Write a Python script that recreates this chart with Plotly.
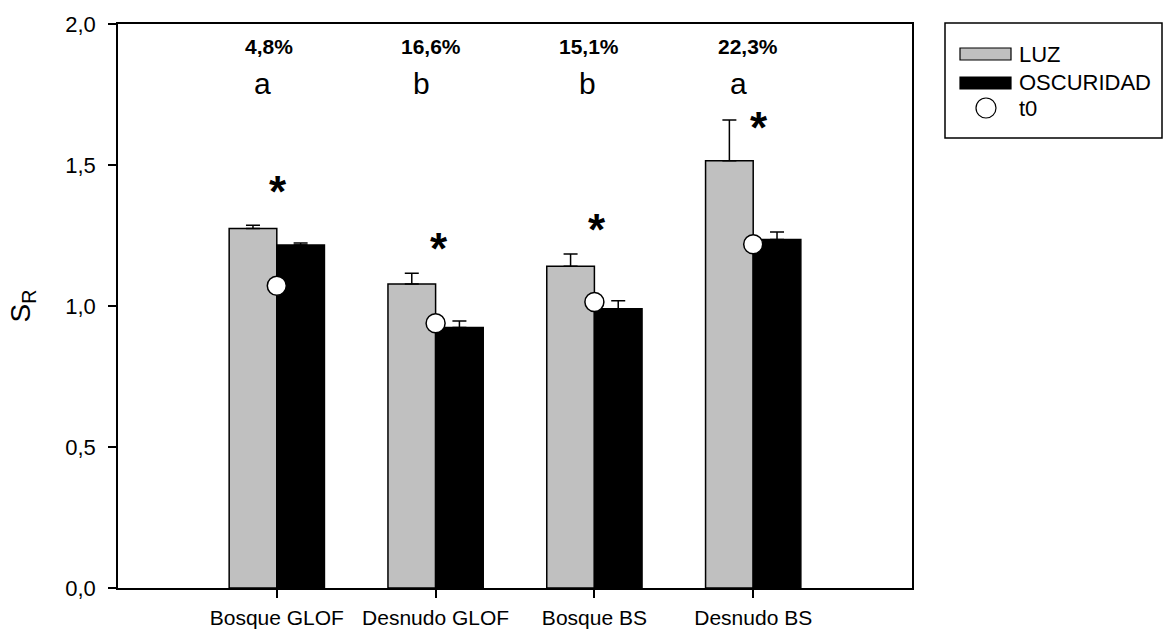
import plotly.graph_objects as go

categories = ["Bosque GLOF", "Desnudo GLOF", "Bosque BS", "Desnudo BS"]
luz = [1.275, 1.078, 1.141, 1.515]
luz_err = [0.011, 0.038, 0.043, 0.145]
oscuridad = [1.216, 0.924, 0.990, 1.236]
osc_err = [0.007, 0.023, 0.029, 0.026]
t0 = [1.072, 0.939, 1.014, 1.219]
percent_labels = ["4,8%", "16,6%", "15,1%", "22,3%"]
letters = ["a", "b", "b", "a"]
asterisk_y = [1.44, 1.24, 1.305, 1.67]

FONT = "Liberation Sans, Arial, sans-serif"

fig = go.Figure()
fig.add_trace(go.Bar(
    x=categories, y=luz, name="LUZ",
    marker=dict(color="#c0c0c0", line=dict(color="black", width=1.5)),
    error_y=dict(type="data", array=luz_err, arrayminus=[0] * 4, symmetric=False,
                 color="black", thickness=1.5, width=7),
))
fig.add_trace(go.Bar(
    x=categories, y=oscuridad, name="OSCURIDAD",
    marker=dict(color="black", line=dict(color="black", width=1.5)),
    error_y=dict(type="data", array=osc_err, arrayminus=[0] * 4, symmetric=False,
                 color="black", thickness=1.5, width=7),
))
fig.add_trace(go.Scatter(
    x=categories, y=t0, name="t0", mode="markers",
    marker=dict(symbol="circle", size=19, color="white", line=dict(color="black", width=1.5)),
))

pct_shift = [-8, -5, -5, -5]
let_shift = [-14, -14, -7, -15]
ast_shift = [1, 3, 3, 6]
annotations = []
for i, c in enumerate(categories):
    annotations.append(dict(x=c, y=1.922, xref="x", yref="y", text="<b>%s</b>" % percent_labels[i],
                            showarrow=False, xshift=pct_shift[i],
                            font=dict(family=FONT, size=21, color="black")))
    annotations.append(dict(x=c, y=1.79, xref="x", yref="y", text=letters[i],
                            showarrow=False, xshift=let_shift[i],
                            font=dict(family=FONT, size=30, color="black")))
    annotations.append(dict(x=c, y=asterisk_y[i], xref="x", yref="y", text="<b>*</b>",
                            showarrow=False, xshift=ast_shift[i], yshift=-10,
                            font=dict(family=FONT, size=44, color="black")))

# custom legend (paper coordinates)
W, H = 1163, 634
L, R, T, B = 118, 251, 24, 46
pw, ph = W - L - R, H - T - B
def px(x):
    return (x - L) / pw
def py(y):
    return (H - B - y) / ph

shapes = [
    dict(type="rect", xref="paper", yref="paper", x0=px(945), x1=px(1162), y0=py(138), y1=py(23),
         line=dict(color="black", width=1.5), fillcolor="white"),
    dict(type="rect", xref="paper", yref="paper", x0=px(960), x1=px(1011), y0=py(60), y1=py(48),
         line=dict(color="black", width=1.2), fillcolor="#c0c0c0"),
    dict(type="rect", xref="paper", yref="paper", x0=px(960), x1=px(1011), y0=py(89), y1=py(77),
         line=dict(color="black", width=1.2), fillcolor="black"),
    dict(type="circle", xref="paper", yref="paper", x0=px(976), x1=px(996), y0=py(118), y1=py(98),
         line=dict(color="black", width=1.2), fillcolor="white"),
]
for name, yy in zip(["LUZ", "OSCURIDAD", "t0"], [54, 82, 109]):
    annotations.append(dict(x=px(1017), y=py(yy), xref="paper", yref="paper", text=name,
                            xanchor="left", yanchor="middle", showarrow=False,
                            font=dict(family=FONT, size=22, color="black")))

fig.update_layout(
    width=W, height=H,
    margin=dict(l=L, r=R, t=T, b=B),
    barmode="group", bargap=0.4, bargroupgap=0,
    showlegend=False,
    plot_bgcolor="white", paper_bgcolor="white",
    separators=",.",
    font=dict(family=FONT, size=22, color="black"),
    annotations=annotations, shapes=shapes,
)
fig.update_xaxes(
    type="category", range=[-1, 4], showgrid=False, zeroline=False, automargin=False,
    showline=True, linecolor="black", linewidth=2, mirror=True,
    ticks="outside", ticklen=8, tickwidth=1.5, tickcolor="black",
    tickfont=dict(family=FONT, size=21), ticklabelstandoff=2,
)
fig.update_yaxes(
    range=[0, 2], tickvals=[0, 0.5, 1, 1.5, 2], tickformat=".1f",
    showgrid=False, zeroline=False, automargin=False,
    showline=True, linecolor="black", linewidth=1.5, mirror=True,
    ticks="outside", ticklen=8, tickwidth=1.5, tickcolor="black",
    tickfont=dict(family=FONT, size=22), ticklabelstandoff=8,
    title=dict(text="S<sub>R</sub>", font=dict(family=FONT, size=28), standoff=26),
)

fig.write_html("out.html")
